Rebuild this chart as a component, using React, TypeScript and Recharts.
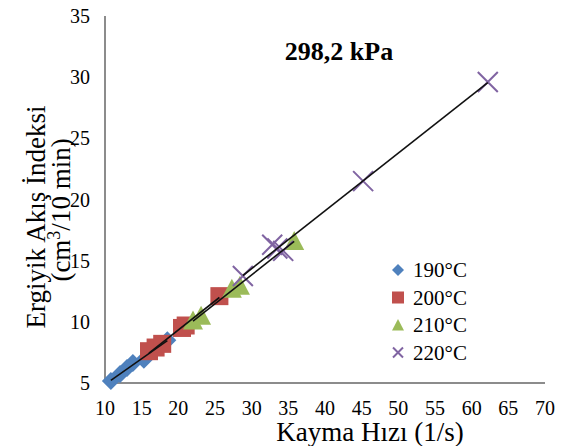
import { ScatterChart, Scatter, XAxis, YAxis, Label } from "recharts";

const X_TICKS = [10, 15, 20, 25, 30, 35, 40, 45, 50, 55, 60, 65, 70];
const Y_TICKS = [5, 10, 15, 20, 25, 30, 35];

// Kayma hızı (1/s) and EAİ (cm3/10 min) per temperature
const x190 = [10.8, 12.05, 13.0, 13.8, 15.3, 18.5];
const y190 = [5.16, 5.74, 6.23, 6.64, 6.9, 8.5];
const x200 = [16.0, 16.9, 17.8, 20.5, 21.0, 25.6];
const y200 = [7.6, 7.9, 8.2, 9.5, 9.7, 12.1];
const x210 = [22.0, 23.1, 27.3, 28.4, 35.8];
const y210 = [10.1, 10.5, 12.7, 12.95, 16.6];
const x220 = [28.8, 32.8, 33.5, 34.3, 45.2, 62.2];
const y220 = [13.75, 16.3, 16.0, 15.8, 21.5, 29.6];

const LABELS = ["190\u00b0C", "200\u00b0C", "210\u00b0C", "220\u00b0C"];
const COLORS = ["#4F81BD", "#C0504D", "#9BBB59", "#8064A2"];

const FONT = "'Liberation Serif', 'Times New Roman', serif";
const serif = { fontFamily: FONT };

const toPts = (xs: number[], ys: number[]) => xs.map((x, i) => ({ x, y: ys[i] }));

// least squares trendline, drawn only over the series' own range
function trend(xs: number[], ys: number[]) {
  const n = xs.length;
  const mx = xs.reduce((a, b) => a + b, 0) / n;
  const my = ys.reduce((a, b) => a + b, 0) / n;
  let sxy = 0;
  let sxx = 0;
  xs.forEach((x, i) => {
    sxy += (x - mx) * (ys[i] - my);
    sxx += (x - mx) * (x - mx);
  });
  const b = sxy / sxx;
  const a = my - b * mx;
  const lo = Math.min(...xs);
  const hi = Math.max(...xs);
  return [
    { x: lo, y: a + b * lo },
    { x: hi, y: a + b * hi },
  ];
}

const series = [
  { name: LABELS[0], data: toPts(x190, y190), fit: trend(x190, y190) },
  { name: LABELS[1], data: toPts(x200, y200), fit: trend(x200, y200) },
  { name: LABELS[2], data: toPts(x210, y210), fit: trend(x210, y210) },
  { name: LABELS[3], data: toPts(x220, y220), fit: trend(x220, y220) },
];

function Marker({ kind, cx, cy, r }: { kind: number; cx: number; cy: number; r: number }) {
  const c = COLORS[kind];
  if (kind === 0)
    return <path d={`M${cx},${cy - r}L${cx + r},${cy}L${cx},${cy + r}L${cx - r},${cy}Z`} fill={c} />;
  if (kind === 1) return <rect x={cx - r} y={cy - r} width={2 * r} height={2 * r} fill={c} />;
  if (kind === 2)
    return <path d={`M${cx},${cy - r}L${cx + r},${cy + r * 0.9}L${cx - r},${cy + r * 0.9}Z`} fill={c} />;
  return (
    <path
      d={`M${cx - r},${cy - r}L${cx + r},${cy + r}M${cx - r},${cy + r}L${cx + r},${cy - r}`}
      stroke={c}
      strokeWidth={2}
      fill="none"
    />
  );
}

const SIZES = [9, 9, 10, 10];

function XTick({ x, y, payload }: any) {
  return (
    <text x={x} y={y + 32} textAnchor="middle" fontSize={20} fill="#000" style={serif}>
      {payload.value}
    </text>
  );
}

function YTick({ x, y, payload }: any) {
  return (
    <text x={x} y={y + 7} textAnchor="end" fontSize={20} fill="#000" style={serif}>
      {payload.value}
    </text>
  );
}

const AXIS = { stroke: "#8C8C8C", strokeWidth: 2 };

export default function App() {
  return (
    <div style={{ position: "absolute", left: 0, top: 0, width: 562, height: 446, background: "#fff" }}>
      <ScatterChart width={562} height={446} margin={{ top: 16, right: 17, bottom: 0, left: 0 }}>
        <XAxis
          type="number"
          dataKey="x"
          domain={[10, 70]}
          ticks={X_TICKS}
          interval={0}
          tick={<XTick />}
          tickLine={false}
          axisLine={AXIS}
          tickSize={0}
          tickMargin={0}
          height={63}
        >
          <Label
            content={() => (
              <text x={370} y={441} textAnchor="middle" fontSize={27} fill="#000" style={serif}>
                Kayma Hızı (1/s)
              </text>
            )}
          />
        </XAxis>
        <XAxis
          xAxisId="top"
          orientation="top"
          type="number"
          dataKey="x"
          domain={[10, 70]}
          ticks={X_TICKS}
          tick={false}
          tickLine={false}
          axisLine={AXIS}
          height={0}
        />
        <YAxis
          type="number"
          dataKey="y"
          domain={[5, 35]}
          ticks={Y_TICKS}
          interval={0}
          tick={<YTick />}
          tickLine={false}
          axisLine={AXIS}
          tickSize={0}
          tickMargin={15}
          width={105}
        >
          <Label
            content={() => (
              <g fontSize={27} fill="#000" style={serif}>
                <text transform="translate(45,217) rotate(-90)" textAnchor="middle" style={serif}>
                  Ergiyik Akış İndeksi
                </text>
                <text transform="translate(70,210) rotate(-90)" textAnchor="middle" style={serif}>
                  (cm<tspan fontSize={18} dy={-10}>3</tspan>
                  <tspan dy={10}>/10 min)</tspan>
                </text>
              </g>
            )}
          />
        </YAxis>
        <YAxis
          yAxisId="right"
          orientation="right"
          type="number"
          dataKey="y"
          domain={[5, 35]}
          ticks={Y_TICKS}
          tick={false}
          tickLine={false}
          axisLine={AXIS}
          width={0}
        />
        {series.map((s, i) => (
          <Scatter
            key={s.name}
            name={s.name}
            data={s.data}
            isAnimationActive={false}
            shape={(p: any) => <Marker kind={i} cx={p.cx} cy={p.cy} r={SIZES[i]} />}
          />
        ))}
        {series.map((s) => (
          <Scatter
            key={s.name + "-fit"}
            data={s.fit}
            isAnimationActive={false}
            legendType="none"
            line={{ stroke: "#111", strokeWidth: 1.6 }}
            shape={() => <g />}
          />
        ))}
      </ScatterChart>
      <svg
        width={562}
        height={446}
        style={{ position: "absolute", left: 0, top: 0, pointerEvents: "none" }}
      >
        <text x={339} y={60} textAnchor="middle" fontSize={26} fontWeight="bold" fill="#000" style={serif}>
          298,2 kPa
        </text>
        {LABELS.map((l, i) => (
          <g key={l}>
            <Marker kind={i} cx={398} cy={270 + i * 27.5} r={i === 3 ? 5 : 6} />
            <text x={413} y={277 + i * 27.5} fontSize={21} fill="#000" style={serif}>
              {l}
            </text>
          </g>
        ))}
      </svg>
    </div>
  );
}
